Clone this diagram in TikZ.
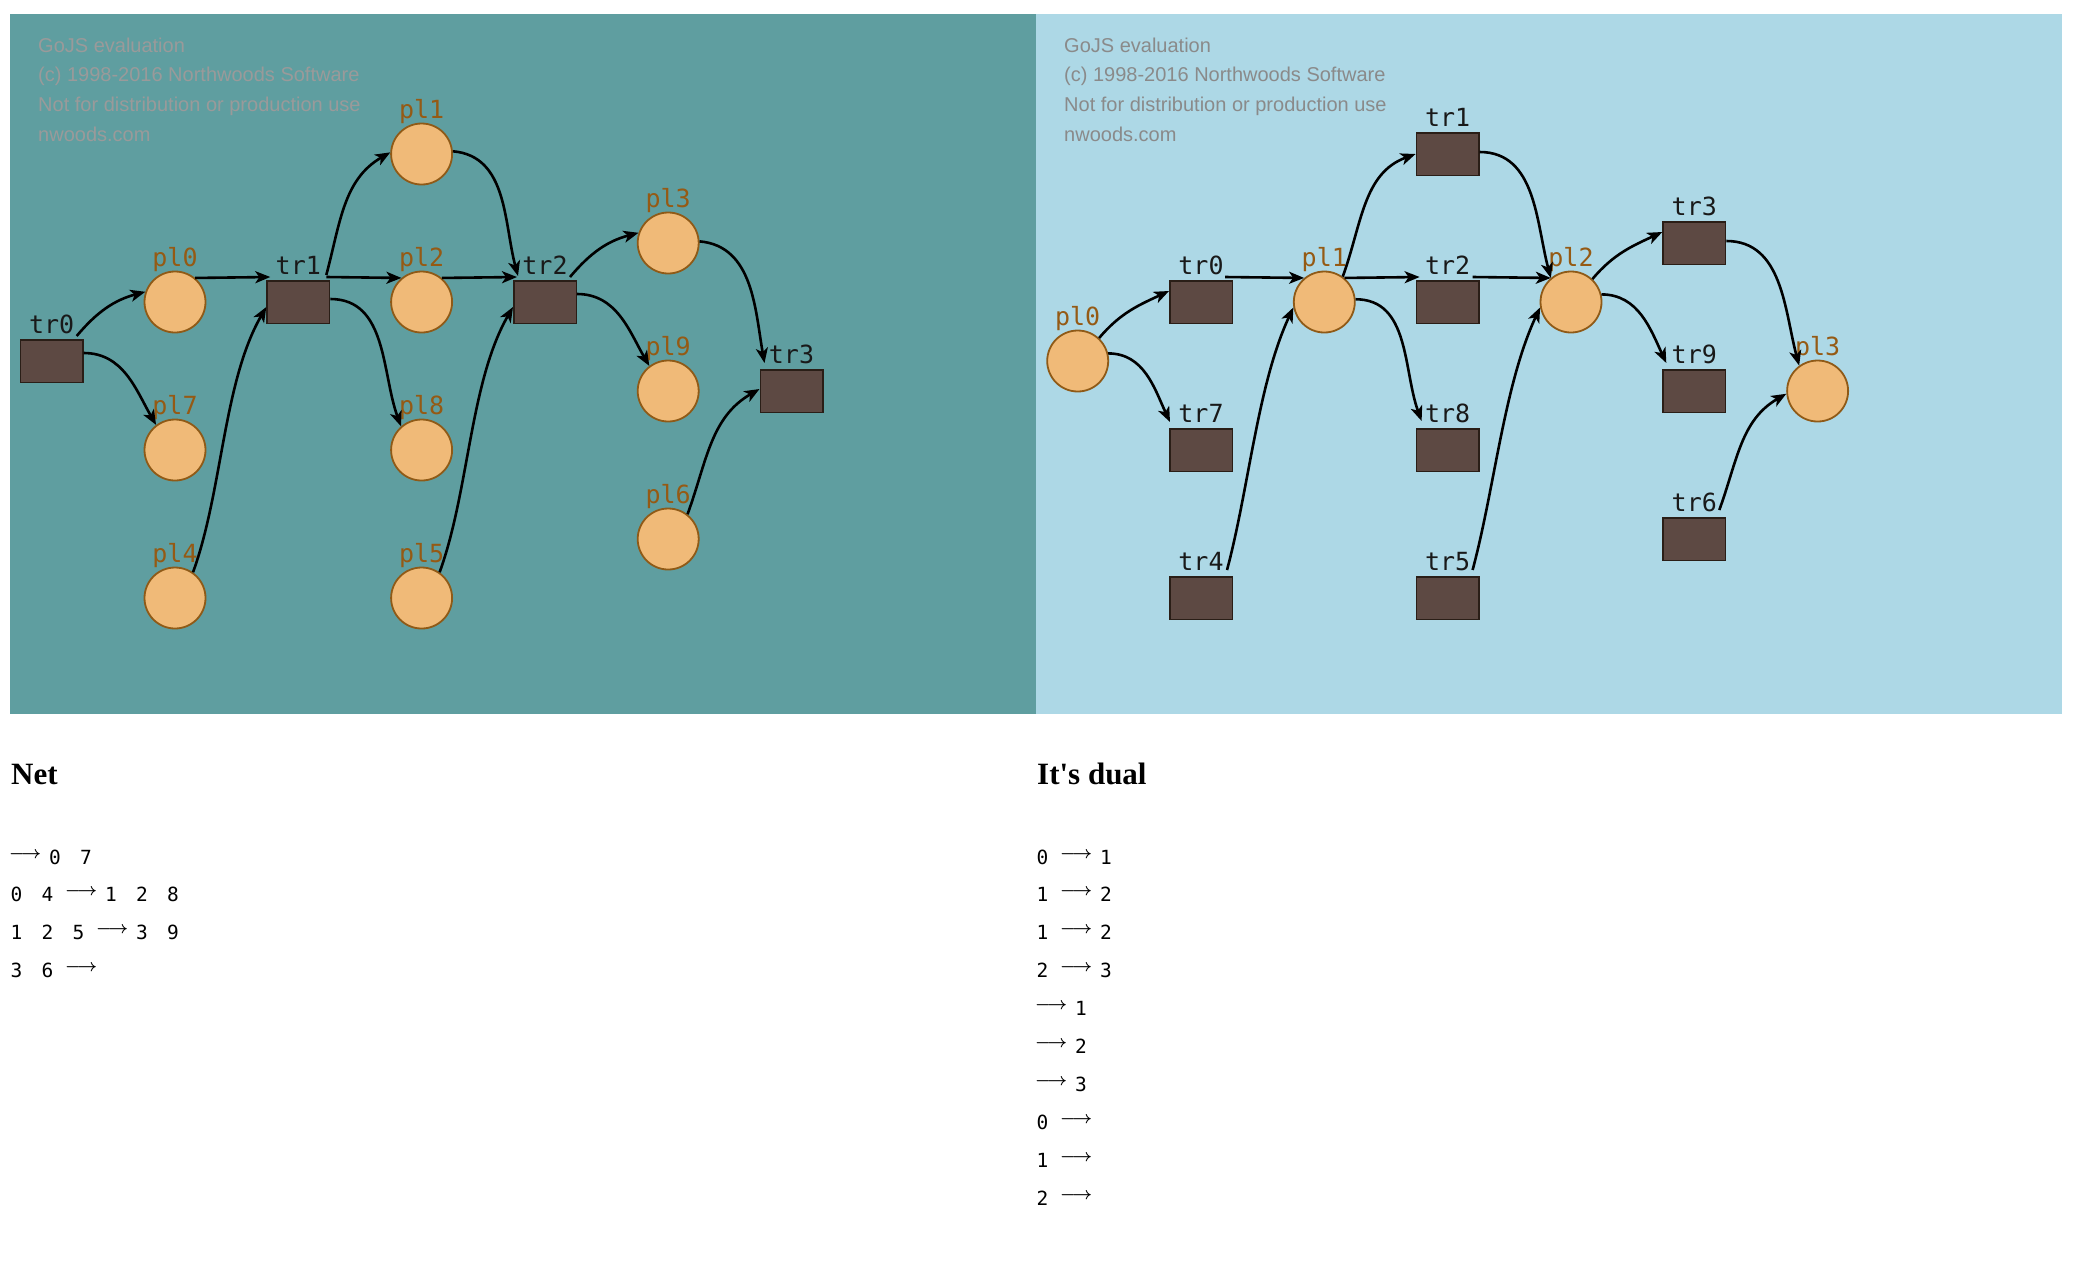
\documentclass[tikz,border=0pt]{standalone}
\usepackage{fontspec}
\setmainfont{Liberation Serif}
\newfontfamily\monofont{DejaVu Sans Mono}
\newfontfamily\markfont{Liberation Sans}
\usetikzlibrary{arrows.meta}
\definecolor{panelA}{HTML}{5F9EA0}
\definecolor{panelB}{HTML}{ADD8E6}
\definecolor{placefill}{HTML}{F0BA78}
\definecolor{placeline}{HTML}{8F5A17}
\definecolor{placetext}{HTML}{955A14}
\definecolor{transfill}{HTML}{5D4943}
\definecolor{transline}{HTML}{2A1E17}
\definecolor{markA}{HTML}{9A9A9A}
\definecolor{markB}{HTML}{8A8A8A}
\newcommand{\listarrow}{\raisebox{6pt}{\makebox[29pt]{\fontsize{17.5}{20}\selectfont\boldmath$\longrightarrow$}}}
\newcommand{\gapdd}{\hspace{19.26pt}}
\newcommand{\gapda}{\hspace{13.2pt}}
\newcommand{\gapad}{\hspace{9.5pt}}
\tikzset{
>={Stealth[length=15pt,width=12pt,inset=4pt]},
plabel/.style={font=\monofont\fontsize{25}{30}\selectfont,text=placetext,inner sep=0pt,text depth=0pt,label distance=4pt},
tlabel/.style={font=\monofont\fontsize{25}{30}\selectfont,text=black!90,inner sep=0pt,text depth=0pt,label distance=5pt},
place node/.style={circle,draw=placeline,fill=placefill,line width=1.8pt,minimum size=61pt,inner sep=0pt,label={[plabel]above:#1}},
trans node/.style={rectangle,draw=transline,fill=transfill,line width=1.5pt,minimum width=62.5pt,minimum height=42.5pt,inner sep=0pt,label={[tlabel]above:#1}},
arco/.style={->,line width=2.6pt,black},
marchio/.style={font=\markfont\fontsize{20}{20}\selectfont,anchor=base west,inner sep=0pt},
titolo/.style={font=\bfseries\fontsize{31}{31}\selectfont,anchor=base west,inner sep=0pt},
riga/.style={font=\monofont\fontsize{19.5}{20}\selectfont,anchor=base west,inner sep=0pt}}

\begin{document}
\begin{tikzpicture}[x=1pt,y=1pt]

\fill[white] (0,0) rectangle (2076,-1270);
\useasboundingbox (0,0) rectangle (2076,-1270);
\fill[panelA] (10,-14) rectangle (1036,-714);
\fill[panelB] (1036,-14) rectangle (2062,-714);

% watermark
\foreach \testo [count=\i from 0] in {GoJS evaluation,(c) 1998-2016 Northwoods Software,Not for distribution or production use,nwoods.com}{
  \node[marchio,text=markA] (markA\i) at (38,-52-29.7*\i) {\testo};
  \node[marchio,text=markB] (markB\i) at (1064,-52-29.7*\i) {\testo};
}

% net
\node[trans node=tr0] (tr0) at (51.7,-361) {};
\node[place node=pl0] (pl0) at (175,-302) {};
\node[place node=pl7] (pl7) at (175,-450) {};
\node[place node=pl4] (pl4) at (175,-598) {};
\node[trans node=tr1] (tr1) at (298.3,-302) {};
\node[place node=pl1] (pl1) at (421.6,-154) {};
\node[place node=pl2] (pl2) at (421.6,-302) {};
\node[place node=pl8] (pl8) at (421.6,-450) {};
\node[place node=pl5] (pl5) at (421.6,-598) {};
\node[trans node=tr2] (tr2) at (545,-302) {};
\node[place node=pl3] (pl3) at (668.2,-243) {};
\node[place node=pl9] (pl9) at (668.2,-391) {};
\node[place node=pl6] (pl6) at (668.2,-539) {};
\node[trans node=tr3] (tr3) at (791.5,-391) {};

\draw[arco] ([xshift=-7pt,yshift=3pt]tr0.north east) to[out=50,in=195] (pl0.161);
\draw[arco] ([yshift=8pt]tr0.east) to[out=0,in=120] (pl7.127);
\draw[arco] (pl0.50) -- ([xshift=4pt,yshift=3pt]tr1.north west);
\draw[arco] (pl4.55) to[out=70,in=240,looseness=0.8] ([yshift=-5pt]tr1.west);
\draw[arco] ([xshift=-4pt,yshift=5pt]tr1.north east) to[out=75,in=210] (pl1.177);
\draw[arco] ([xshift=-4pt,yshift=3pt]tr1.north east) -- (pl2.130);
\draw[arco] ([yshift=3pt]tr1.east) to[out=0,in=110] (pl8.131);
\draw[arco] (pl1.5) to[out=-5,in=105] ([xshift=5pt,yshift=4pt]tr2.north west);
\draw[arco] (pl2.50) -- ([xshift=4pt,yshift=3pt]tr2.north west);
\draw[arco] (pl5.55) to[out=70,in=240,looseness=0.8] ([yshift=-5pt]tr2.west);
\draw[arco] ([xshift=-7pt,yshift=3pt]tr2.north east) to[out=50,in=195] (pl3.161);
\draw[arco] ([yshift=8pt]tr2.east) to[out=0,in=120] (pl9.127);
\draw[arco] (pl3.3) to[out=-5,in=100] ([xshift=5pt,yshift=6pt]tr3.north west);
\draw[arco] (pl6.52) to[out=70,in=210] ([yshift=2pt]tr3.west);

% dual
\node[place node=pl0] (dpl0) at (1077.7,-361) {};
\node[trans node=tr0] (dtr0) at (1201,-302) {};
\node[trans node=tr7] (dtr7) at (1201,-450) {};
\node[trans node=tr4] (dtr4) at (1201,-598) {};
\node[place node=pl1] (dpl1) at (1324.3,-302) {};
\node[trans node=tr1] (dtr1) at (1447.6,-154) {};
\node[trans node=tr2] (dtr2) at (1447.6,-302) {};
\node[trans node=tr8] (dtr8) at (1447.6,-450) {};
\node[trans node=tr5] (dtr5) at (1447.6,-598) {};
\node[place node=pl2] (dpl2) at (1571,-302) {};
\node[trans node=tr3] (dtr3) at (1694.3,-243) {};
\node[trans node=tr9] (dtr9) at (1694.3,-391) {};
\node[trans node=tr6] (dtr6) at (1694.3,-539) {};
\node[place node=pl3] (dpl3) at (1817.6,-391) {};

\draw[arco] (dpl0.47) to[out=50,in=205] ([yshift=11pt]dtr0.west);
\draw[arco] (dpl0.14) to[out=0,in=115] ([xshift=1pt,yshift=6pt]dtr7.north west);
\draw[arco] ([xshift=-8pt,yshift=3pt]dtr0.north east) -- (dpl1.130);
\draw[arco] ([xshift=-6pt,yshift=6pt]dtr4.north east) to[out=75,in=245,looseness=0.8] (dpl1.190);
\draw[arco] (dpl1.54) to[out=70,in=200] (dtr1.west);
\draw[arco] (dpl1.50) -- ([xshift=4pt,yshift=3pt]dtr2.north west);
\draw[arco] (dpl1.5) to[out=0,in=110] ([xshift=6pt,yshift=7pt]dtr8.north west);
\draw[arco] ([yshift=2pt]dtr1.east) to[out=0,in=105] (dpl2.130);
\draw[arco] ([xshift=-7pt,yshift=3pt]dtr2.north east) -- (dpl2.130);
\draw[arco] ([xshift=-7pt,yshift=6pt]dtr5.north east) to[out=75,in=245,looseness=0.8] (dpl2.190);
\draw[arco] (dpl2.47) to[out=50,in=205] ([yshift=11pt]dtr3.west);
\draw[arco] (dpl2.14) to[out=0,in=115] ([xshift=4pt,yshift=6pt]dtr9.north west);
\draw[arco] ([yshift=2pt]dtr3.east) to[out=0,in=105] (dpl3.126);
\draw[arco] ([xshift=-7pt,yshift=7pt]dtr6.north east) to[out=70,in=210] (dpl3.185);

% lists
\node[titolo] (titA) at (11,-784) {Net};
\node[titolo] (titB) at (1037,-784) {It\textquotesingle s dual};
\foreach \testo [count=\i from 0] in {{\listarrow\gapad 0\gapdd 7},{0\gapdd 4\gapda\listarrow\gapad 1\gapdd 2\gapdd 8},{1\gapdd 2\gapdd 5\gapda\listarrow\gapad 3\gapdd 9},{3\gapdd 6\gapda\listarrow}}
  \node[riga] (netA\i) at (10.5,-864-37.9*\i) {\testo};
\foreach \testo [count=\i from 0] in {{0\gapda\listarrow\gapad 1},{1\gapda\listarrow\gapad 2},{1\gapda\listarrow\gapad 2},{2\gapda\listarrow\gapad 3},{\listarrow\gapad 1},{\listarrow\gapad 2},{\listarrow\gapad 3},{0\gapda\listarrow},{1\gapda\listarrow},{2\gapda\listarrow}}
  \node[riga] (netB\i) at (1036.5,-864-37.9*\i) {\testo};

\end{tikzpicture}
\end{document}
